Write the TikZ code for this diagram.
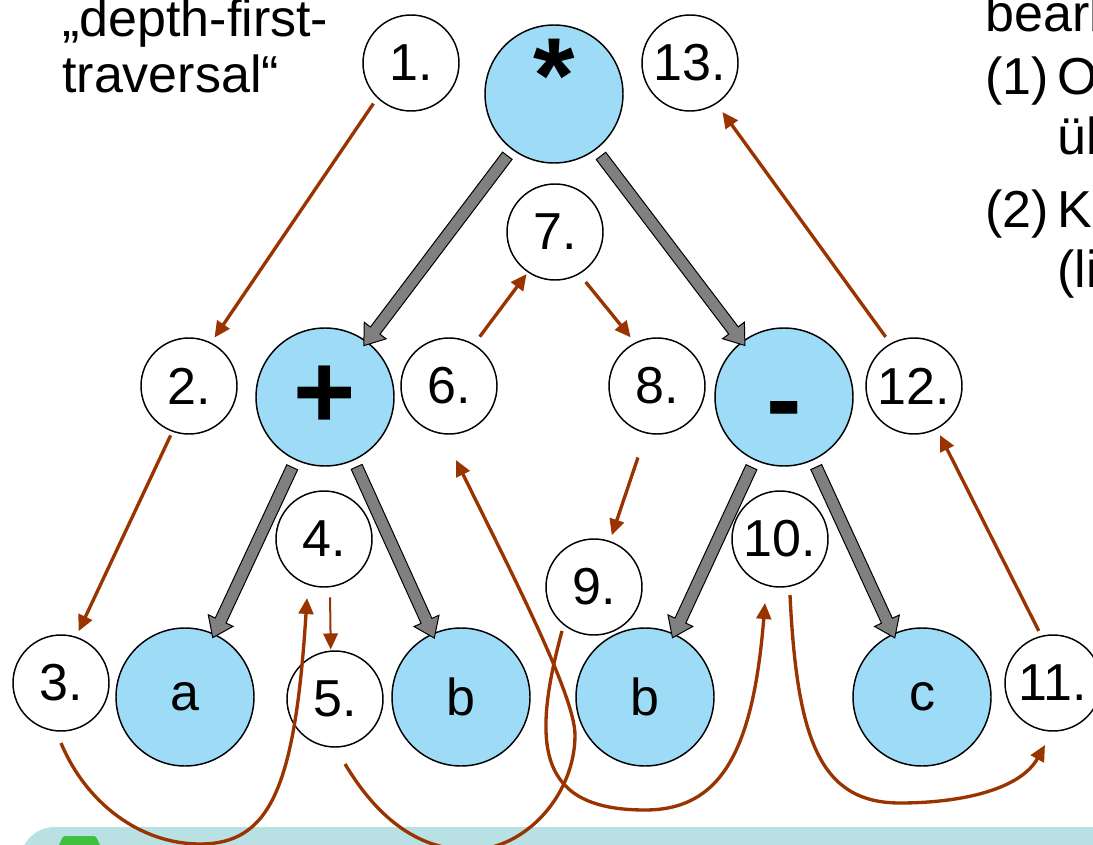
\documentclass[tikz,border=0pt]{standalone}
\usepackage{fontspec}
\setmainfont{Liberation Sans}
\usepackage{tikz}
\usetikzlibrary{arrows.meta, shapes.arrows}

\definecolor{opFill}{RGB}{158,219,247}
\definecolor{walkRed}{RGB}{153,51,0}
\definecolor{boxTeal}{RGB}{185,224,227}
\definecolor{iconGreen}{RGB}{64,192,64}

\begin{document}
\begin{tikzpicture}[
    x=0.75pt, y=-0.75pt,
    opNode/.style={circle, fill=opFill, draw=black, line width=1.1pt, minimum size=103.5pt, inner sep=0pt, text height=49.6pt, text depth=0pt, font=\fontsize{80}{80}\selectfont\bfseries},
    leafNode/.style={circle, fill=opFill, draw=black, line width=1.1pt, minimum size=103.5pt, inner sep=0pt, font=\fontsize{39}{39}\selectfont},
    visitNode/.style={circle, fill=white, draw=black, line width=1.1pt, minimum size=72pt, inner sep=0pt, font=\fontsize{39}{39}\selectfont},
    treeEdge/.style={single arrow, draw=black, fill=gray, line width=0.75pt, inner xsep=0pt, inner ysep=4.1pt, single arrow head extend=5.8pt, single arrow tip angle=72, minimum height=#1, sloped, allow upside down, pos=0.51},
    walk/.style={draw=walkRed, line width=2.5pt, -{Triangle[length=12pt, width=11pt]}},
    slideText/.style={font=\fontsize{39}{47}\selectfont, inner sep=0pt, anchor=base west}
]
    \useasboundingbox (0,0) rectangle (1093,845);
    \clip (0,0) rectangle (1093,845);

    % Box at the bottom edge
    \fill[boxTeal, rounded corners=26pt] (20,827) rectangle (1130,920);
    \fill[iconGreen, rounded corners=2pt] (57,850) -- (63,836) -- (96,836) -- (102,850) -- cycle;

    % Side texts
    \node[slideText] (dfs1) at (62,37) {„depth-first-};
    \node[slideText] (dfs2) at (62,93) {traversal“};
    \node[slideText] (bear) at (985,32) {bearb};
    \node[slideText] (item1) at (985,95) {(1)};
    \node[slideText] (item1a) at (1057,95) {O};
    \node[slideText] (item1b) at (1057,155) {üb};
    \node[slideText] (item2) at (985,228) {(2)};
    \node[slideText] (item2a) at (1057,228) {K};
    \node[slideText] (item2b) at (1057,287) {(li};

    % Expression tree
    \node[opNode] (times) at (554,94) {\raisebox{11pt}{*}};
    \node[opNode] (plus) at (325,397) {\raisebox{1.5pt}{+}};
    \node[opNode] (minus) at (784,397) {\raisebox{-4pt}{-}};
    \node[leafNode] (a) at (185,697) {a};
    \node[leafNode] (b1) at (461,697) {b};
    \node[leafNode] (b2) at (645,697) {b};
    \node[leafNode] (c) at (922,697) {c};

    \path (times) -- node[treeEdge=178.5pt] {} (plus);
    \path (times) -- node[treeEdge=178.5pt] {} (minus);
    \path (plus) -- node[treeEdge=141pt] {} (a);
    \path (plus) -- node[treeEdge=141pt] {} (b1);
    \path (minus) -- node[treeEdge=141pt] {} (b2);
    \path (minus) -- node[treeEdge=141pt] {} (c);

    % Visiting order
    \node[visitNode] (n1) at (411,63) {1.};
    \node[visitNode] (n2) at (189,386) {2.};
    \node[visitNode] (n3) at (61,683) {3.};
    \node[visitNode] (n4) at (324,539) {4.};
    \node[visitNode] (n5) at (335,699) {5.};
    \node[visitNode] (n6) at (449,386) {6.};
    \node[visitNode] (n7) at (555,232) {7.};
    \node[visitNode] (n8) at (657,386) {8.};
    \node[visitNode] (n9) at (594,587) {9.};
    \node[visitNode] (n10) at (780,539) {10.};
    \node[visitNode] (n11) at (1053,683) {11.};
    \node[visitNode] (n12) at (914,386) {12.};
    \node[visitNode] (n13) at (690,63) {13.};

    % Walk around the tree
    \draw[walk, shorten <=5pt, shorten >=4.5pt] (n1.226) -- (n2.63);
    \draw[walk, shorten <=3pt, shorten >=4.5pt] (n2.250) -- (n3.72);
    \draw[walk] ([shift={(0,60)}]n3.center) .. controls +(25,60) and +(-60,0) .. (200,844)
        .. controls +(70,0) and +(-12,190) .. ([shift={(-17,59)}]n4.center);
    \draw[walk, line width=1.5pt, shorten <=7.5pt, shorten >=0.75pt] (n4.277) -- (n5.95);
    \draw[walk] ([shift={(10,65)}]n5.center) .. controls +(30,50) and +(-55,0) .. (470,850)
        .. controls +(55,0) and +(0,60) .. (575,735)
        .. controls +(0,-40) and +(53,108) .. ([shift={(7,74)}]n6.center);
    \draw[walk, shorten <=7pt, shorten >=1.5pt] (n6.59) -- (n7.236);
    \draw[walk, shorten <=7.5pt, shorten >=5pt] (n7.300) -- (n8.117);
    \draw[walk, shorten <=19pt, shorten >=4.5pt] (n8.257) -- (n9.71);
    \draw[walk] ([shift={(-32,44)}]n9.center) .. controls +(-32,118) and +(-105,0) .. (645,810)
        .. controls +(75,0) and +(-12,150) .. ([shift={(-15,64)}]n10.center);
    \draw[walk] ([shift={(10,56)}]n10.center) .. controls +(7,145) and +(-80,0) .. (900,803)
        .. controls +(60,0) and +(-25,45) .. ([shift={(-8,62)}]n11.center);
    \draw[walk, shorten <=4pt, shorten >=5pt] (n11.104) -- (n12.298);
    \draw[walk, shorten <=6pt, shorten >=7.5pt] (n12.119) -- (n13.303);
\end{tikzpicture}
\end{document}
